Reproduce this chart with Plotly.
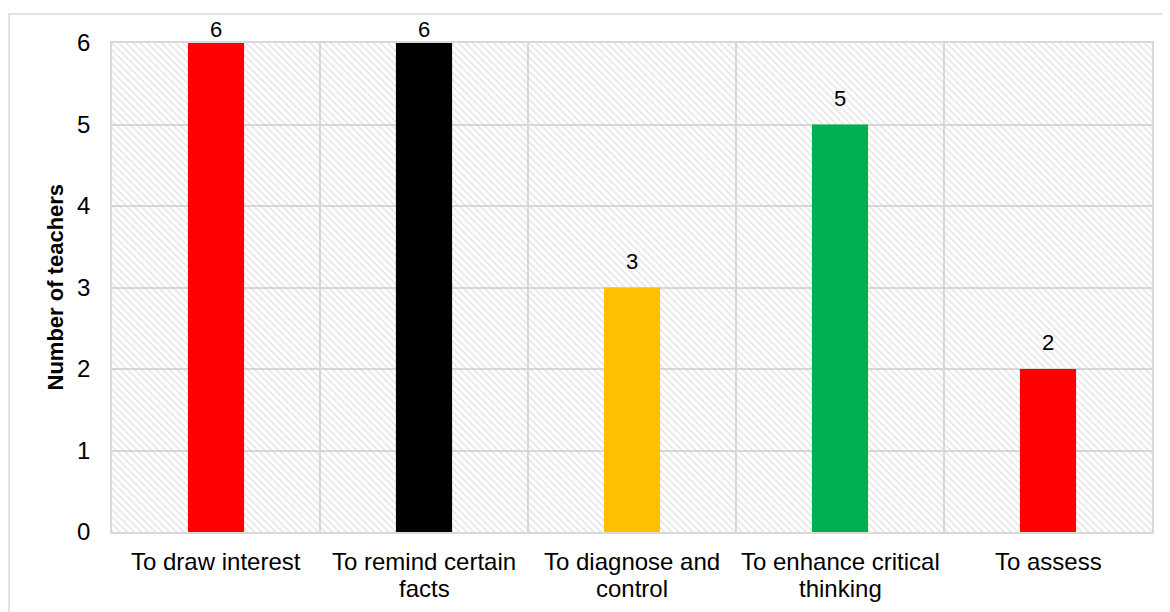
import plotly.graph_objects as go

categories = ["To draw interest", "To remind certain<br>facts", "To diagnose and<br>control",
              "To enhance critical<br>thinking", "To assess"]
values = [6, 6, 3, 5, 2]
bar_colors = ["#FF0000", "#000000", "#FFC000", "#00B050", "#FF0000"]
y_max = 6
y_ticks = [0, 1, 2, 3, 4, 5, 6]

FONT = "Liberation Sans, Arial, sans-serif"
GRID = "#d9d9d9"

fig = go.Figure()

# hatched plot-area background
fig.add_trace(go.Bar(
    x=categories, y=[y_max] * len(categories), width=1,
    marker=dict(color="rgba(0,0,0,0)", line=dict(width=0),
                pattern=dict(shape="\\", fgcolor="#c9c9c9", size=5, solidity=0.32)),
    hoverinfo="skip", showlegend=False,
))

fig.add_trace(go.Bar(
    x=categories, y=values, width=0.27,
    marker=dict(color=bar_colors, line=dict(width=0)),
    showlegend=False,
))

# data labels
for cat, v in zip(categories, values):
    fig.add_annotation(
        x=cat, y=v, xref="x", yref="y", text=str(v), showarrow=False,
        yanchor="bottom", yshift=(-1 if v >= y_max else 12),
        font=dict(family=FONT, size=22, color="#000000"),
    )

# category labels (each line placed separately)
for cat in categories:
    for i, line in enumerate(cat.split("<br>")):
        fig.add_annotation(
            x=cat, xref="x", yref="paper", y=-0.0600 - i * 0.056, text=line,
            showarrow=False, yanchor="middle", xanchor="center",
            font=dict(family=FONT, size=24, color="#000000"),
        )

fig.update_layout(
    width=1162, height=604,
    margin=dict(l=104, r=18, t=35, b=80),
    barmode="overlay",
    plot_bgcolor="white", paper_bgcolor="white",
    font=dict(family=FONT, size=24, color="#000000"),
)

fig.update_xaxes(
    type="category", tickson="boundaries", showgrid=True, gridcolor=GRID, gridwidth=1.5,
    showline=True, linecolor=GRID, linewidth=1.5, mirror=True,
    showticklabels=False, ticks="",
    range=[-0.5, 4.5],
)
fig.update_yaxes(
    range=[0, y_max], tickvals=y_ticks, showgrid=True, gridcolor=GRID, gridwidth=1.5,
    showline=True, linecolor=GRID, linewidth=1.5, mirror=True, zeroline=False,
    ticks="outside", ticklen=15, tickcolor="rgba(0,0,0,0)",
    tickfont=dict(family=FONT, size=24, color="#000000"),
)

fig.add_annotation(
    text="<b>Number of teachers</b>", textangle=-90,
    xref="paper", yref="paper", x=-0.0548, y=0.5, xanchor="center", yanchor="middle",
    showarrow=False, font=dict(family=FONT, size=22, color="#000000"),
)

# outer chart frame
fig.add_shape(type="rect", xref="paper", yref="paper",
              x0=-0.099, y0=-0.3, x1=1.1, y1=1.0593,
              line=dict(color=GRID, width=1.5), fillcolor="rgba(0,0,0,0)", layer="below")

fig.write_html("out.html")
